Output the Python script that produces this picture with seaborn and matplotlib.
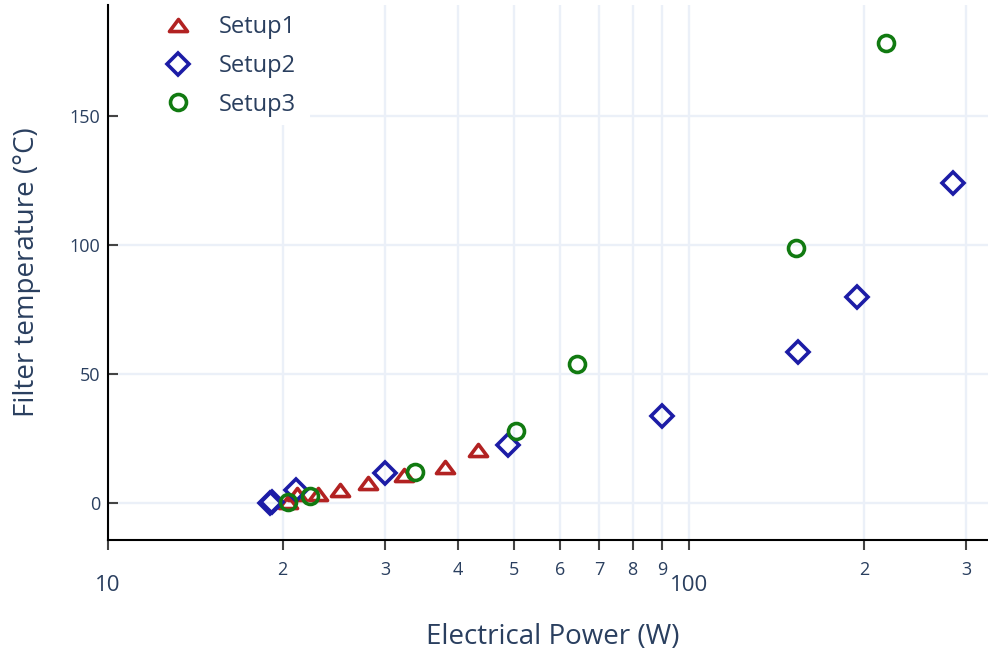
import matplotlib
matplotlib.use("Agg")
import matplotlib.pyplot as plt
import matplotlib.ticker as mticker
from matplotlib.patches import Rectangle
from matplotlib.path import Path
import pandas as pd
import seaborn as sns

# values
power_setup1 = [20.4, 21.2, 23.0, 25.1, 28.0, 32.4, 38.0, 43.3]
temp_setup1 = [0.5, 3.5, 3.5, 5.0, 7.8, 10.9, 14.0, 20.5]

power_setup2 = [19.0, 19.2, 21.1, 30.0, 48.8, 89.8, 154.0, 194.5, 285.0]
temp_setup2 = [0.0, 0.5, 5.0, 11.6, 22.5, 33.7, 58.5, 79.8, 124.0]

power_setup3 = [20.4, 22.3, 33.8, 50.5, 64.1, 152.8, 218.4]
temp_setup3 = [0.4, 2.7, 12.0, 28.0, 53.9, 98.8, 178.3]

major_ticks = [10, 100]
major_labels = ["10", "100"]
minor_ticks = [20, 30, 40, 50, 60, 70, 80, 90, 200, 300]
minor_labels = ["2", "3", "4", "5", "6", "7", "8", "9", "2", "3"]
y_ticks = [0, 50, 100, 150]

sns.set_theme(style="white")
plt.rcParams['font.family'] = ['Open Sans', 'DejaVu Sans']

text_color = "#2a3f5f"
grid_color = "#ebf0f8"
tick_color = "#444444"

fig = plt.figure(figsize=(9.88, 6.54), dpi=100)
ax = fig.add_axes([107.5 / 988, (654 - 540) / 654, (988 - 107.5) / 988, (540 - 5) / 654])

# wide, flat triangle like plotly's triangle-up
tri = Path([(-1, -0.67), (1, -0.67), (0, 0.67), (0, 0)], closed=True)

series = [
    ("Setup1", power_setup1, temp_setup1, "#b22222", tri, 13),
    ("Setup2", power_setup2, temp_setup2, "#1c1ca6", "D", 11.2),
    ("Setup3", power_setup3, temp_setup3, "#117a11", "o", 11.5),
]

for name, xs, ys, color, marker, size in series:
    df = pd.DataFrame({"power": xs, "temp": ys})
    sns.lineplot(data=df, x="power", y="temp", ax=ax, estimator=None, sort=False,
                 linestyle="", marker=marker, markersize=size,
                 markerfacecolor="none", markeredgecolor=color,
                 markeredgewidth=2.6, color=color, label=name, zorder=3)

ax.set_xscale("log")
ax.set_xlim(10, 326.8)
ax.set_ylim(-14.3, 193)

ax.xaxis.set_major_locator(mticker.FixedLocator(major_ticks))
ax.xaxis.set_major_formatter(mticker.FixedFormatter(major_labels))
ax.xaxis.set_minor_locator(mticker.FixedLocator(minor_ticks))
ax.xaxis.set_minor_formatter(mticker.FixedFormatter(minor_labels))
ax.yaxis.set_major_locator(mticker.FixedLocator(y_ticks))

ax.tick_params(axis="x", which="both", direction="out", length=7, width=1.5,
               color=tick_color, labelcolor=text_color, bottom=True)
ax.tick_params(axis="x", which="minor", labelsize=13, pad=8)
ax.tick_params(axis="x", which="major", labelsize=16, pad=18)
ax.tick_params(axis="y", direction="in", length=7.5, width=1.5, color=tick_color,
               labelsize=13, labelcolor=text_color, pad=5, left=True)

ax.set_axisbelow(True)
ax.grid(True, which="both", color=grid_color, linewidth=1.7)

for side in ["top", "right"]:
    ax.spines[side].set_visible(False)
for side in ["left", "bottom"]:
    ax.spines[side].set_color("black")
    ax.spines[side].set_linewidth(1.5)

ax.set_xlabel("Electrical Power (W)", fontsize=20, color=text_color)
ax.set_ylabel("Filter temperature (°C)", fontsize=20, color=text_color)
ax.xaxis.set_label_coords(0.506, -0.155)
ax.yaxis.set_label_coords(-0.0755, 0.501)

# white legend background like plotly
ax.add_patch(Rectangle((0.012, 0.776), 0.218, 0.224, transform=ax.transAxes,
                       facecolor="white", edgecolor="none", zorder=1, clip_on=False))
leg = ax.legend(loc="upper left", bbox_to_anchor=(0.042, 0.999), frameon=False,
                fontsize=17, handlelength=2.0, handletextpad=0.75,
                labelspacing=0.63, borderpad=0.4, borderaxespad=0)
for t in leg.get_texts():
    t.set_color(text_color)

fig.savefig("out.png", dpi=100)
